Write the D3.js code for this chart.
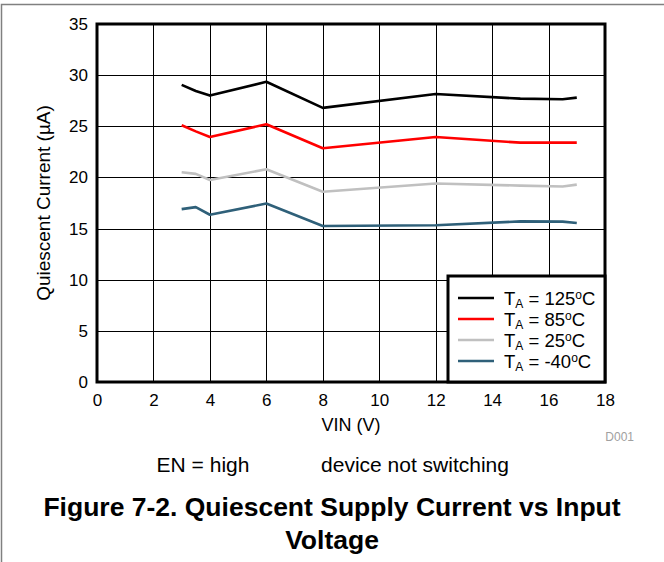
<!DOCTYPE html>
<html>
<head>
<meta charset="utf-8">
<script src="https://cdn.jsdelivr.net/npm/d3@7"></script>
<style>
  body { margin: 0; background: #fff; }
  svg { font-family: "Liberation Sans", Arial, sans-serif; }
</style>
</head>
<body>
<svg width="664" height="562"></svg>
<script>
// VIN points (V)
const vin = [3, 3.5, 4, 6, 8, 12, 15, 16.5, 17];
// quiescent current (uA) per temperature
const iq125 = [29.05, 28.45, 28.0, 29.35, 26.8, 28.15, 27.7, 27.65, 27.8];
const iq85 = [25.1, 24.5, 23.95, 25.2, 22.85, 23.95, 23.4, 23.4, 23.4];
const iq25 = [20.5, 20.35, 19.75, 20.8, 18.6, 19.4, 19.2, 19.12, 19.3];
const iqm40 = [16.9, 17.1, 16.35, 17.45, 15.25, 15.32, 15.7, 15.68, 15.55];

const seriesNames = ["125", "85", "25", "-40"];
const seriesColors = ["#000000", "#ff0000", "#c0c0c0", "#2f6079"];
const seriesData = [iq125, iq85, iq25, iqm40];

const xTicks = [0, 2, 4, 6, 8, 10, 12, 14, 16, 18];
const yTicks = [0, 5, 10, 15, 20, 25, 30, 35];

let margin = { top: 24, left: 97, right: 59, bottom: 180 },
    plotW = 664 - margin.left - margin.right,
    plotH = 562 - margin.top - margin.bottom;

const svg = d3.select("svg");

// page frame (top and left)
svg.append("path")
    .attr("d", "M1.5,562 L1.5,4.5 L664,4.5")
    .attr("fill", "none")
    .attr("stroke", "#808080")
    .attr("stroke-width", 1.5);

const g = svg.append("g")
    .attr("transform", `translate(${margin.left}, ${margin.top})`);

const x = d3.scaleLinear().domain([0, 18]).range([0, plotW]);
const y = d3.scaleLinear().domain([0, 35]).range([plotH, 0]);

// grid
g.append("g")
    .selectAll("line")
    .data(xTicks.slice(1, -1))
    .enter().append("line")
    .attr("x1", d => Math.round(x(d)) + 0.5)
    .attr("x2", d => Math.round(x(d)) + 0.5)
    .attr("y1", 0).attr("y2", plotH)
    .attr("stroke", "#000").attr("stroke-width", 1);

g.append("g")
    .selectAll("line")
    .data(yTicks.slice(1, -1))
    .enter().append("line")
    .attr("y1", d => Math.round(y(d)) + 0.5)
    .attr("y2", d => Math.round(y(d)) + 0.5)
    .attr("x1", 0).attr("x2", plotW)
    .attr("stroke", "#000").attr("stroke-width", 1);

// X ticks
const xAxisCall = d3.axisBottom(x).tickValues(xTicks).tickSize(0).tickPadding(12);
const xa = g.append("g")
    .attr("transform", `translate(0, ${plotH})`)
    .call(xAxisCall);
xa.select(".domain").remove();
xa.selectAll("text").attr("font-size", "17px").attr("fill", "#000")
    .attr("font-family", "Liberation Sans, Arial, sans-serif");

// Y ticks
const yAxisCall = d3.axisLeft(y).tickValues(yTicks).tickSize(0).tickPadding(9);
const ya = g.append("g").call(yAxisCall);
ya.select(".domain").remove();
ya.selectAll("text").attr("font-size", "17px").attr("fill", "#000")
    .attr("font-family", "Liberation Sans, Arial, sans-serif");

// lines
const line = d3.line()
    .x((d, i) => x(vin[i]))
    .y(d => y(d));

g.selectAll(".series")
    .data(seriesData)
    .enter().append("path")
    .attr("class", "series")
    .attr("d", d => line(d))
    .attr("fill", "none")
    .attr("stroke", (d, i) => seriesColors[i])
    .attr("stroke-width", 2.6)
    .attr("stroke-linejoin", "round");

// plot border
g.append("rect")
    .attr("x", 0).attr("y", 0)
    .attr("width", plotW).attr("height", plotH)
    .attr("fill", "none")
    .attr("stroke", "#000")
    .attr("stroke-width", 3);

// legend
const lg = g.append("g")
    .attr("transform", `translate(${plotW - 157}, ${plotH - 106})`);
lg.append("rect")
    .attr("width", 157).attr("height", 106)
    .attr("fill", "#fff")
    .attr("stroke", "#000")
    .attr("stroke-width", 3);

const items = lg.selectAll(".item")
    .data(seriesNames)
    .enter().append("g")
    .attr("class", "item")
    .attr("transform", (d, i) => `translate(0, ${22 + i * 21})`);

items.append("line")
    .attr("x1", 10).attr("x2", 46)
    .attr("y1", 0).attr("y2", 0)
    .attr("stroke", (d, i) => seriesColors[i])
    .attr("stroke-width", 2.6);

const lt = items.append("text")
    .attr("x", 56)
    .attr("y", 7)
    .attr("font-size", "18.5px")
    .attr("fill", "#000");
lt.append("tspan").text("T");
lt.append("tspan").text("A").attr("font-size", "12px").attr("dy", 3);
lt.append("tspan").text(" = ").attr("dy", -3);
lt.append("tspan").text(d => d);
lt.append("tspan").text("o").attr("font-size", "12px").attr("dy", -6);
lt.append("tspan").text("C").attr("dy", 6);

// X label
g.append("text")
    .attr("x", plotW / 2)
    .attr("y", plotH + 49)
    .attr("font-size", "18px")
    .attr("text-anchor", "middle")
    .text("VIN (V)");

// Y label
g.append("text")
    .attr("x", -(plotH / 2))
    .attr("y", -47)
    .attr("font-size", "19px")
    .attr("text-anchor", "middle")
    .attr("transform", "rotate(-90)")
    .text("Quiescent Current (\u00b5A)");

// code
svg.append("text")
    .attr("x", 634).attr("y", 441)
    .attr("font-size", "12px")
    .attr("text-anchor", "end")
    .attr("fill", "#a0a0a0")
    .text("D001");

// conditions
svg.append("text")
    .attr("x", 203).attr("y", 472)
    .attr("font-size", "21px")
    .attr("text-anchor", "middle")
    .text("EN = high");
svg.append("text")
    .attr("x", 415).attr("y", 472)
    .attr("font-size", "21px")
    .attr("text-anchor", "middle")
    .text("device not switching");

// caption
svg.append("text")
    .attr("x", 332).attr("y", 516)
    .attr("font-size", "26.5px")
    .attr("font-weight", "bold")
    .attr("text-anchor", "middle")
    .text("Figure 7-2. Quiescent Supply Current vs Input");
svg.append("text")
    .attr("x", 332).attr("y", 549)
    .attr("font-size", "26.5px")
    .attr("font-weight", "bold")
    .attr("text-anchor", "middle")
    .text("Voltage");
</script>
</body>
</html>
